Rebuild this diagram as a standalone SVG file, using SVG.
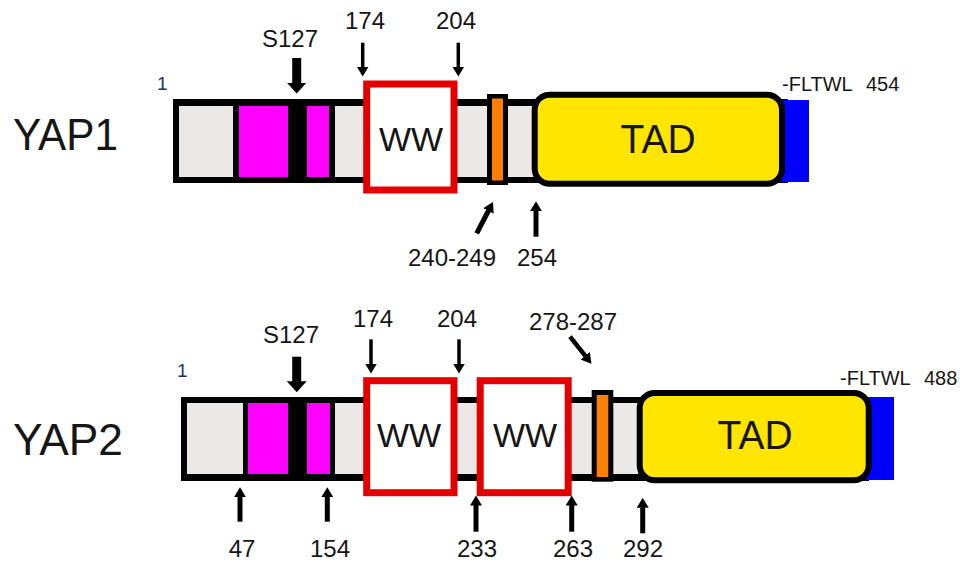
<svg xmlns="http://www.w3.org/2000/svg" width="960" height="564" viewBox="0 0 960 564">
<style>
text{font-family:"Liberation Sans",Arial,sans-serif;fill:#161616}
.num{font-size:24px;text-anchor:middle}
.big{font-size:45px}
.tad{font-size:40px;text-anchor:middle}
.ww{font-size:34px;text-anchor:middle}
.one{font-size:19px;fill:#1d3560}
.ft{font-size:20px}
.grey{fill:#ebe8e5}
.mag{fill:#ff00ff}
.org{fill:#ff7f00}
.blu{fill:#0000ff}
.bar{fill:#000}
.ywd{fill:#ffe500;stroke:#000;stroke-width:6}
.wwbox{fill:#fff;stroke:#e30000;stroke-width:7}
.arr{stroke:#000;fill:none}
</style>
<defs>
<marker id="ah" viewBox="0 0 10 12" refX="0.5" refY="6" markerWidth="10" markerHeight="12" markerUnits="userSpaceOnUse" orient="auto"><path d="M0,0 L10,6 L0,12 z" fill="#000"/></marker>
<marker id="ahL" viewBox="0 0 11 20" refX="0.5" refY="10" markerWidth="11" markerHeight="20" markerUnits="userSpaceOnUse" orient="auto"><path d="M0,0 L11,10 L0,20 z" fill="#000"/></marker>
</defs>
<rect width="960" height="564" fill="#fff"/>

<g id="yap1">
<text class="big" x="13" y="150" textLength="105" lengthAdjust="spacingAndGlyphs">YAP1</text>
<text class="one" x="157" y="90">1</text>
<rect class="bar" x="173" y="99" width="615" height="84"/>
<rect class="grey" x="179" y="106" width="54" height="71"/>
<rect class="mag" x="239" y="106" width="49" height="71"/>
<rect class="mag" x="307" y="106" width="22" height="71"/>
<rect class="grey" x="335" y="106" width="30" height="71"/>
<rect class="grey" x="456" y="106" width="31" height="71"/>
<rect class="bar" x="487" y="94" width="21" height="91"/>
<rect class="org" x="492" y="98.5" width="11" height="82"/>
<rect class="grey" x="508" y="106" width="26" height="71"/>
<rect class="blu" x="781" y="100" width="28" height="82"/>
<rect class="ywd" x="534.7" y="94.7" width="247.3" height="89" rx="15"/>
<text class="tad" x="658" y="153" textLength="75" lengthAdjust="spacingAndGlyphs">TAD</text>
<rect class="wwbox" x="366.7" y="84" width="87.3" height="106"/>
<text class="ww" x="411" y="151">WW</text>
<text class="ft" x="782" y="91">-FLTWL</text>
<text class="ft" x="866" y="91">454</text>
<text class="num" x="290" y="47">S127</text>
<text class="num" x="365" y="29">174</text>
<text class="num" x="456" y="29">204</text>
<text class="num" x="452" y="266">240-249</text>
<text class="num" x="537" y="266">254</text>
</g>

<g id="yap2">
<text class="big" x="13" y="455" textLength="110" lengthAdjust="spacingAndGlyphs">YAP2</text>
<text class="one" x="177" y="377">1</text>
<rect class="bar" x="181" y="397" width="688" height="84"/>
<rect class="grey" x="187" y="403" width="56" height="71"/>
<rect class="mag" x="248" y="403" width="40" height="71"/>
<rect class="mag" x="307" y="403" width="23" height="71"/>
<rect class="grey" x="335" y="403" width="30" height="71"/>
<rect class="grey" x="456" y="403" width="22" height="71"/>
<rect class="grey" x="570" y="403" width="22" height="71"/>
<rect class="bar" x="591.7" y="390" width="21.6" height="91.7"/>
<rect class="org" x="596.7" y="395" width="11.6" height="82"/>
<rect class="grey" x="613.3" y="403" width="25" height="71"/>
<rect class="blu" x="866" y="397" width="28" height="83"/>
<rect class="ywd" x="639.7" y="393" width="229" height="87.3" rx="15"/>
<text class="tad" x="755" y="449" textLength="75" lengthAdjust="spacingAndGlyphs">TAD</text>
<rect class="wwbox" x="366.7" y="380.7" width="87.3" height="112"/>
<text class="ww" x="409" y="447">WW</text>
<rect class="wwbox" x="480.2" y="380.7" width="88" height="112"/>
<text class="ww" x="525" y="447">WW</text>
<text class="ft" x="840" y="385">-FLTWL</text>
<text class="ft" x="924" y="385">488</text>
<text class="num" x="291" y="343">S127</text>
<text class="num" x="373" y="327">174</text>
<text class="num" x="457" y="327">204</text>
<text class="num" x="573" y="330">278-287</text>
<text class="num" x="242" y="557">47</text>
<text class="num" x="330" y="557">154</text>
<text class="num" x="477" y="557">233</text>
<text class="num" x="573" y="557">263</text>
<text class="num" x="643" y="557">292</text>
</g>

<g id="connectors">
<line class="arr" x1="296.7" y1="58" x2="296.7" y2="83" stroke-width="9" marker-end="url(#ahL)"/>
<line class="arr" x1="362.7" y1="42.7" x2="362.7" y2="67" stroke-width="3.5" marker-end="url(#ah)"/>
<line class="arr" x1="458.3" y1="42.7" x2="458.3" y2="67" stroke-width="3.5" marker-end="url(#ah)"/>
<line class="arr" x1="476.7" y1="233.3" x2="488.6" y2="210.5" stroke-width="5" marker-end="url(#ah)"/>
<line class="arr" x1="536" y1="236.7" x2="536" y2="210.7" stroke-width="5" marker-end="url(#ah)"/>

<line class="arr" x1="296.7" y1="356.7" x2="296.7" y2="381.7" stroke-width="9" marker-end="url(#ahL)"/>
<line class="arr" x1="371" y1="339.3" x2="371" y2="364" stroke-width="3.5" marker-end="url(#ah)"/>
<line class="arr" x1="459" y1="339.3" x2="459" y2="364" stroke-width="3.5" marker-end="url(#ah)"/>
<line class="arr" x1="570" y1="336.7" x2="585.5" y2="356.2" stroke-width="4.5" marker-end="url(#ah)"/>
<line class="arr" x1="240" y1="521.7" x2="240" y2="496.7" stroke-width="5" marker-end="url(#ah)"/>
<line class="arr" x1="327.3" y1="521.7" x2="327.3" y2="496.7" stroke-width="5" marker-end="url(#ah)"/>
<line class="arr" x1="476" y1="531.7" x2="476" y2="505" stroke-width="5" marker-end="url(#ah)"/>
<line class="arr" x1="571.7" y1="531.7" x2="571.7" y2="505" stroke-width="5" marker-end="url(#ah)"/>
<line class="arr" x1="642.7" y1="533.3" x2="642.7" y2="507.3" stroke-width="5" marker-end="url(#ah)"/>
</g>
</svg>
